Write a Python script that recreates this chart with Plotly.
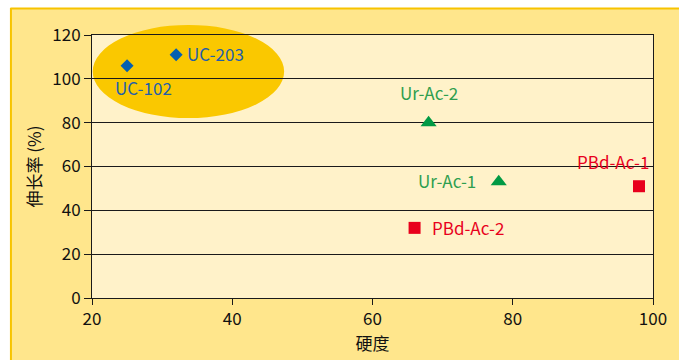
import plotly.graph_objects as go

# Hardness vs. elongation for each resin sample
names = ["UC-102", "UC-203", "Ur-Ac-2", "Ur-Ac-1", "PBd-Ac-1", "PBd-Ac-2"]
hardness = [25, 32, 68, 78, 98, 66]
elongation = [106, 111, 80, 53, 51, 32]
groups = ["UC", "UC", "Ur", "Ur", "PBd", "PBd"]

x_ticks = [20, 40, 60, 80, 100]
y_ticks = [0, 20, 40, 60, 80, 100, 120]

# highlighted UC region (data units)
uc_region_x = [20.1, 47.4]
uc_region_y = [82.1, 124.6]

style = {
    "UC": dict(symbol="diamond", size=10, color="#0560B0", text="#1F5FAA"),
    "Ur": dict(symbol="triangle-up", size=14, color="#009A44", text="#2E9E4F"),
    "PBd": dict(symbol="square", size=12, color="#E8001C", text="#E8001C"),
}
# label placement relative to each marker: (xanchor, xshift, yshift)
label_pos = {
    "UC-102": ("center", 16, -22),
    "UC-203": ("left", 9, 1),
    "Ur-Ac-2": ("center", 0, 30),
    "Ur-Ac-1": ("right", -21, 1),
    "PBd-Ac-1": ("right", 12, 25),
    "PBd-Ac-2": ("left", 15, 0),
}

FONT = "Noto Sans CJK SC, sans-serif"

fig = go.Figure()
for g in ["UC", "Ur", "PBd"]:
    idx = [i for i, k in enumerate(groups) if k == g]
    s = style[g]
    fig.add_trace(go.Scatter(
        x=[hardness[i] for i in idx],
        y=[elongation[i] for i in idx],
        mode="markers",
        marker=dict(symbol=s["symbol"], size=s["size"], color=s["color"],
                    line=dict(width=0)),
        cliponaxis=False,
        showlegend=False,
        hoverinfo="skip",
    ))

annotations = []
for n, xv, yv, g in zip(names, hardness, elongation, groups):
    xa, xs, ys = label_pos[n]
    annotations.append(dict(
        x=xv, y=yv, xref="x", yref="y", text=n, showarrow=False,
        xanchor=xa, yanchor="middle", xshift=xs, yshift=ys,
        font=dict(family=FONT, size=17, color=style[g]["text"]),
    ))

x0, x1 = 20, 100
y0, y1 = 0, 120


def px(v):
    return (v - x0) / (x1 - x0)


def py(v):
    return (v - y0) / (y1 - y0)


shapes = [
    # white strips around the framed panel
    dict(type="rect", xref="paper", yref="paper", x0=-0.2, x1=1.1,
         y0=1.1027, y1=1.2, fillcolor="white", line=dict(width=0), layer="below"),
    dict(type="rect", xref="paper", yref="paper", x0=-0.2, x1=-0.1454,
         y0=-0.3, y1=1.2, fillcolor="white", line=dict(width=0), layer="below"),
    # panel border
    dict(type="line", xref="paper", yref="paper", x0=-0.1454, x1=1.1,
         y0=1.1008, y1=1.1008, line=dict(color="#F7C300", width=2), layer="below"),
    dict(type="line", xref="paper", yref="paper", x0=-0.1445, x1=-0.1445,
         y0=-0.3, y1=1.1027, line=dict(color="#F7C300", width=2), layer="below"),
    # UC highlight ellipse
    dict(type="circle", xref="paper", yref="paper",
         x0=px(uc_region_x[0]), x1=px(uc_region_x[1]),
         y0=py(uc_region_y[0]), y1=py(uc_region_y[1]),
         fillcolor="#FAC800", line=dict(width=0), layer="between"),
]

axis_common = dict(
    showline=True, linecolor="#1a1a1a", linewidth=1, mirror=True,
    ticks="outside", tickcolor="#1a1a1a", tickwidth=1,
    tickfont=dict(family=FONT, size=17, color="#111111"),
    zeroline=False,
)

fig.update_layout(
    width=679, height=360,
    margin=dict(l=92, r=23, t=35, b=62),
    paper_bgcolor="#FFE68C",
    plot_bgcolor="#FFF2C9",
    showlegend=False,
    shapes=shapes,
    annotations=annotations,
    xaxis=dict(
        range=[x0, x1], tickvals=x_ticks, ticklen=6, showgrid=False,
        title=dict(text="硬度", font=dict(family=FONT, size=17, color="#111111"),
                   standoff=2),
        **axis_common,
    ),
    yaxis=dict(
        range=[y0, y1], tickvals=y_ticks, ticklen=7, showgrid=True,
        gridcolor="#1a1a1a", gridwidth=1,
        title=dict(text="伸长率 (%)", font=dict(family=FONT, size=17, color="#111111"),
                   standoff=6),
        **axis_common,
    ),
)

fig.write_html("out.html")
